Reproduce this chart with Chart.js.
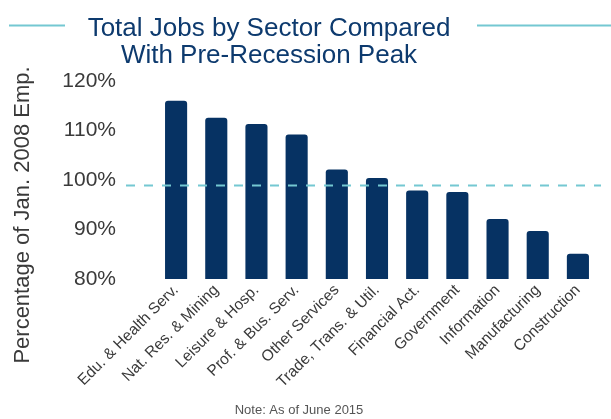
<!DOCTYPE html>
<html>
<head>
<meta charset="utf-8">
<script src="https://cdn.jsdelivr.net/npm/chart.js@4.4.1/dist/chart.umd.min.js"></script>
<style>
  html, body { margin: 0; padding: 0; background: #fff; }
  #wrap { width: 611px; height: 419px; }
</style>
</head>
<body>
<div id="wrap"><canvas id="chart" width="611" height="419"></canvas></div>
<script>
// Sectors, ordered as in the picture
const sectors = [
  'Edu. & Health Serv.', 'Nat. Res. & Mining', 'Leisure & Hosp.', 'Prof. & Bus. Serv.',
  'Other Services', 'Trade, Trans. & Util.', 'Financial Act.', 'Government',
  'Information', 'Manufacturing', 'Construction'
];
// Jobs as % of January 2008 employment (June 2015)
const pctOfPeak = [116.0, 112.6, 111.3, 109.2, 102.1, 100.4, 97.9, 97.6, 92.1, 89.7, 85.1];
// Dashed reference line (pre-recession level, as drawn)
const peakLine = [99];
const yTicks = [80, 90, 100, 110, 120];
const titleLines = ['Total Jobs by Sector Compared', 'With Pre-Recession Peak'];
const yTitle = 'Percentage of Jan. 2008 Emp.';

const navy = '#063263';
const cyan = '#74c8d2';
const textGray = '#3a3a3a';
const font = "'Liberation Sans', Arial, sans-serif";

// dashed peak line, title with cyan rules, y axis title
const decorations = {
  id: 'decorations',
  afterDatasetsDraw(chart) {
    const { ctx, chartArea, scales } = chart;
    const y = Math.round(scales.y.getPixelForValue(peakLine[0])) + 0.5;
    ctx.save();
    ctx.strokeStyle = cyan;
    ctx.lineWidth = 2;
    ctx.setLineDash([9, 9]);
    ctx.beginPath();
    ctx.moveTo(chartArea.left - 30, y);
    ctx.lineTo(chartArea.right + 3, y);
    ctx.stroke();
    ctx.restore();
  },
  afterDraw(chart) {
    const { ctx } = chart;
    ctx.save();

    // title is set left of the page centre in the original
    ctx.fillStyle = '#0d3a6e';
    ctx.font = '26px ' + font;
    ctx.textAlign = 'center';
    ctx.textBaseline = 'alphabetic';
    ctx.fillText(titleLines[0], 269, 36);
    ctx.fillText(titleLines[1], 269, 63);

    ctx.strokeStyle = cyan;
    ctx.lineWidth = 1.8;
    ctx.beginPath();
    ctx.moveTo(9, 25.5);
    ctx.lineTo(65, 25.5);
    ctx.moveTo(477, 25.5);
    ctx.lineTo(611, 25.5);
    ctx.stroke();

    // axis title sits lower than the plot centre in the original
    ctx.translate(23, 215);
    ctx.rotate(-Math.PI / 2);
    ctx.fillStyle = textGray;
    ctx.font = '22px ' + font;
    ctx.textBaseline = 'middle';
    ctx.fillText(yTitle, 0, 0);
    ctx.restore();
  }
};

new Chart(document.getElementById('chart').getContext('2d'), {
  type: 'bar',
  data: {
    labels: sectors,
    datasets: [{
      data: pctOfPeak,
      backgroundColor: navy,
      borderRadius: 3,
      borderSkipped: false,
      barPercentage: 0.55,
      categoryPercentage: 1
    }]
  },
  options: {
    responsive: false,
    animation: false,
    layout: { padding: { left: 0, right: 13, top: 81, bottom: 0 } },
    plugins: {
      legend: { display: false },
      tooltip: { enabled: false },
      title: { display: false },
      subtitle: {
        display: true,
        position: 'bottom',
        text: 'Note: As of June 2015',
        color: '#555',
        font: { family: font, size: 13, weight: 'normal' },
        padding: { top: 0, bottom: 1 }
      }
    },
    scales: {
      x: {
        grid: { display: false },
        border: { display: false },
        ticks: {
          color: textGray,
          font: { family: font, size: 15.5 },
          minRotation: 45,
          maxRotation: 45,
          padding: -6,
          labelOffset: 0,
          autoSkip: false
        },
        afterFit(scale) { scale.height = 123.4; }
      },
      y: {
        min: 80,
        max: 120,
        grid: { display: false },
        border: { display: false },
        afterBuildTicks(scale) { scale.ticks = yTicks.map(v => ({ value: v })); },
        ticks: {
          color: textGray,
          font: { family: font, size: 21 },
          padding: 32,
          callback: v => v + '%'
        },
        afterFit(scale) { scale.width = 156; }
      }
    }
  },
  plugins: [decorations]
});
</script>
</body>
</html>
